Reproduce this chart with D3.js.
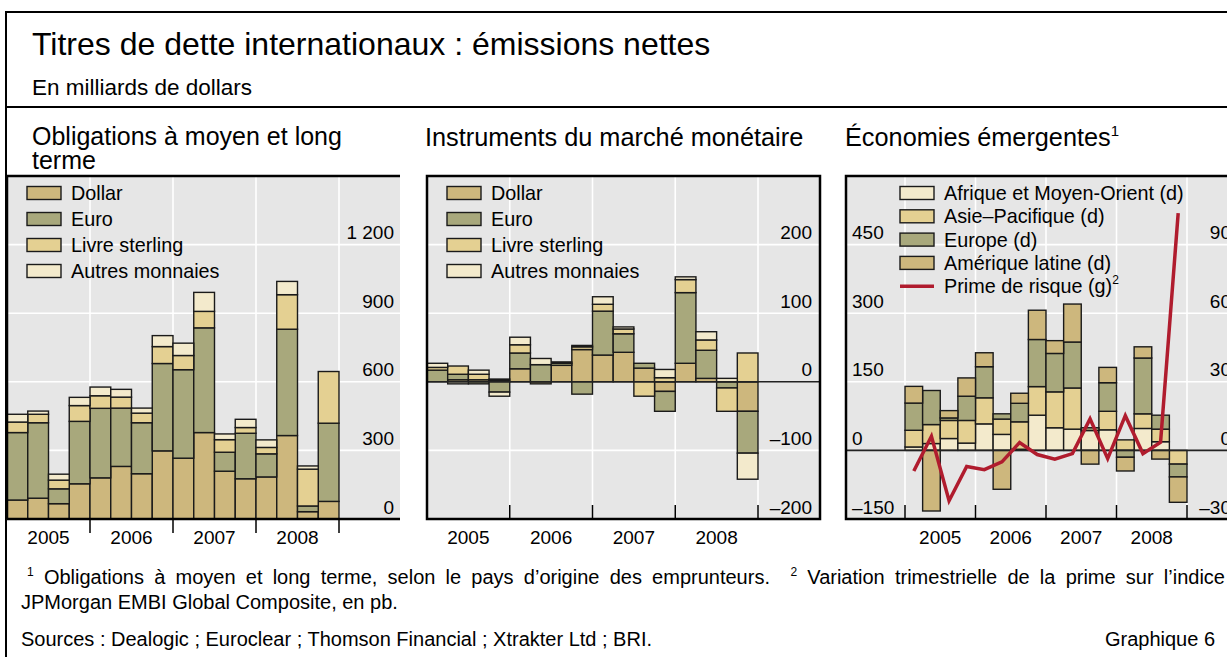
<!DOCTYPE html>
<html lang="fr">
<head>
<meta charset="utf-8">
<title>Titres de dette internationaux : émissions nettes</title>
<script src="https://cdn.jsdelivr.net/npm/d3@7"></script>
<style>
  body { margin: 0; background: #fff; }
  svg { display: block; font-family: Arial, "Liberation Sans", Helvetica, sans-serif; }
  .axis-text { font-size: 19px; fill: #000; }
  .legend-text { font-size: 19.8px; fill: #000; }
</style>
</head>
<body>
<svg id="chart" width="1227" height="657"></svg>
<script>
// trimestres, 2005 T1 - 2008 T4
const quarters = ["2005T1", "2005T2", "2005T3", "2005T4",
                  "2006T1", "2006T2", "2006T3", "2006T4",
                  "2007T1", "2007T2", "2007T3", "2007T4",
                  "2008T1", "2008T2", "2008T3", "2008T4"];
const years = ["2005", "2006", "2007", "2008"];

// Obligations à moyen et long terme (mrd USD)
const oblDollar   = [83, 91, 67, 154, 180, 230, 198, 298, 266, 378, 209, 176, 184, 365, 32, 77];
const oblEuro     = [295, 330, 65, 273, 304, 255, 223, 382, 387, 458, 83, 199, 101, 465, 25, 342];
const oblSterling = [46, 37, 38, 69, 55, 48, 42, 74, 62, 72, 55, 25, 28, 151, 161, 226];
const oblAutres   = [34, 14, 26, 36, 38, 34, 22, 48, 54, 83, 25, 36, 33, 58, 14, 0];

// Instruments du marché monétaire (mrd USD)
const mmDollar   = [0, 3, 3, 2, 19, -3, 24, 47, 39, 43, 20, -14, 27, 5, 0, -43];
const mmEuro     = [17, 8, -3, -15, 23, 25, 3, -18, 64, 27, 7, -29, 103, 41, -9, -61];
const mmSterling = [4, 12, 8, 2, 12, 0, 2, 4, 10, 7, -21, 6, 19, 15, -34, 42];
const mmAutres   = [6, -3, 6, -6, 11, 9, 0, 2, 11, 3, 0, 12, 4, 12, 5, -38];

// Économies émergentes (mrd USD, échelle de droite)
const emAfrique = [1.5, 3, 5.2, 3.2, 11.6, 7, 0.5, 15.4, 9.9, 9.3, 8.7, 9, 0, 9.6, 3.8, 0];
const emAsie    = [7.3, 8.3, 7.9, 9.9, 11.4, 6.7, 12, 12.5, 15.7, 18, 0, 8.1, 4.6, 6.4, 5.5, -6];
const emEurope  = [11.9, 14.9, 1.1, 10.6, 13.6, 2.3, 8.1, 20.6, 16.8, 20.1, 1.2, 12.5, -3, 24.4, 6.1, -5.6];
const emAmLat   = [7.3, -26.5, 3.2, 8, 6.1, -17, 4.4, 12.8, 5.6, 16.6, -6, 6.7, -6, 4.9, -3.8, -11.1];
// Prime de risque, variation trimestrielle en pb (échelle de gauche)
const emPrime   = [-45, 31, -110, -35, -42, -25, 17, -9, -19, -7, 69, -18, 76, -7, 18, 519];

// graduations
const oblTicks = [0, 300, 600, 900, 1200];
const mmTicks = [-200, -100, 0, 100, 200];
const emLeftTicks = [-150, 0, 150, 300, 450];
const emRightTicks = [-30, 0, 30, 60, 90];

const currencyNames = ["Dollar", "Euro", "Livre sterling", "Autres monnaies"];
const regionNames = ["Afrique et Moyen-Orient (d)", "Asie–Pacifique (d)", "Europe (d)", "Amérique latine (d)"];

const cDollar = "#cdb77d", cEuro = "#a8a87c", cSterling = "#e4d092", cAutres = "#f3eacc";
const bg = "#e6e6e6";
const red = "#b01c2e";

const svg = d3.select("#chart");
const loc = d3.formatLocale({ decimal: ",", thousands: " ", grouping: [3], currency: ["", ""], minus: "\u2013" });
const fmt = loc.format(",d");

const plotTop = 176, plotBottom = 519;

// --- en-tête
svg.append("path").attr("d", "M6,657V12H1227").attr("fill", "none").attr("stroke", "#000").attr("stroke-width", 2);
svg.append("line").attr("x1", 6).attr("x2", 1227).attr("y1", 107).attr("y2", 107).attr("stroke", "#000").attr("stroke-width", 2);
svg.append("text").attr("x", 32).attr("y", 55).style("font-size", "32px")
   .text("Titres de dette internationaux : émissions nettes");
svg.append("text").attr("x", 32).attr("y", 95).style("font-size", "22.5px")
   .text("En milliards de dollars");

svg.append("text").attr("x", 32).attr("y", 145).style("font-size", "25px").text("Obligations à moyen et long");
svg.append("text").attr("x", 32).attr("y", 169).style("font-size", "25px").text("terme");
svg.append("text").attr("x", 425).attr("y", 146).style("font-size", "25.3px").text("Instruments du marché monétaire");
const t3 = svg.append("text").attr("x", 845).attr("y", 146).style("font-size", "25.3px");
t3.append("tspan").text("Économies émergentes");
t3.append("tspan").attr("dy", -10).style("font-size", "15px").text("1");

function drawPanel(cfg) {
    const g = svg.append("g");
    const x = d3.scaleBand().domain(quarters).range(cfg.xRange).padding(0);
    const xYear = d3.scaleBand().domain(years).range(cfg.xRange).padding(0);
    const y = d3.scaleLinear().domain(cfg.yDomain).range([plotBottom, plotTop]);

    g.append("rect")
     .attr("x", cfg.left).attr("y", plotTop)
     .attr("width", cfg.right - cfg.left).attr("height", plotBottom - plotTop)
     .attr("fill", bg);

    // grille blanche
    g.selectAll(".hgrid")
     .data(cfg.yTicks.filter(t => t > cfg.yDomain[0] && t !== 0))
     .join("line")
     .attr("x1", cfg.left).attr("x2", cfg.right)
     .attr("y1", d => y(d)).attr("y2", d => y(d))
     .attr("stroke", "#fff").attr("stroke-width", 1.6);

    const bounds = [xYear(years[0])].concat(years.map(yr => xYear(yr) + xYear.bandwidth()))
                    .filter(v => v > cfg.left + 3);
    g.selectAll(".vgrid").data(bounds).join("line")
     .attr("x1", d => d).attr("x2", d => d)
     .attr("y1", plotTop).attr("y2", plotBottom)
     .attr("stroke", "#fff").attr("stroke-width", 1.6);

    // barres empilées
    const rows = quarters.map((q, i) => {
        const r = { q: q };
        cfg.keys.forEach((k, j) => r[k] = cfg.series[j][i]);
        return r;
    });
    const layers = d3.stack().keys(cfg.keys).offset(d3.stackOffsetDiverging)(rows);

    g.selectAll(".layer").data(layers).join("g")
     .attr("fill", (d, i) => cfg.colors[i])
     .selectAll("rect")
     .data(d => d.filter(s => s[0] !== s[1]))
     .join("rect")
     .attr("x", d => x(d.data.q))
     .attr("width", x.bandwidth())
     .attr("y", d => y(Math.max(d[0], d[1])))
     .attr("height", d => Math.abs(y(d[0]) - y(d[1])))
     .attr("stroke", "#1a1a1a").attr("stroke-width", 1.4);

    if (cfg.yDomain[0] < 0) {
        g.append("line")
         .attr("x1", cfg.left).attr("x2", cfg.right)
         .attr("y1", y(0)).attr("y2", y(0))
         .attr("stroke", "#222").attr("stroke-width", 1.6);
    }

    // graduations verticales
    const axisY = g.append("g")
        .attr("transform", `translate(${cfg.labelX},0)`)
        .call(d3.axisRight(y).tickValues(cfg.yTicks).tickSize(0).tickFormat(fmt));
    axisY.select(".domain").remove();
    axisY.selectAll("text")
         .attr("class", "axis-text")
         .attr("x", 0).attr("dy", -6)
         .attr("text-anchor", "end");

    // années
    const axisX = g.append("g")
        .attr("transform", `translate(0,${plotBottom})`)
        .call(d3.axisBottom(xYear).tickSize(0));
    axisX.select(".domain").remove();
    axisX.selectAll("text").attr("class", "axis-text").attr("y", 25).attr("dy", 0);

    const tickLen = cfg.tickDown ? 14 : -14;
    g.selectAll(".ytick").data(bounds).join("line")
     .attr("x1", d => d).attr("x2", d => d)
     .attr("y1", plotBottom).attr("y2", plotBottom + tickLen)
     .attr("stroke", "#000").attr("stroke-width", 1.5);

    // cadre
    g.append("path")
     .attr("d", cfg.frame)
     .attr("fill", "none").attr("stroke", "#000").attr("stroke-width", 2.5);

    return { g: g, x: x, y: y };
}

function drawLegend(x0, y0, step, names, colors) {
    const lg = svg.append("g").attr("transform", `translate(${x0},${y0})`);
    const it = lg.selectAll("g").data(names).join("g")
        .attr("transform", (d, i) => `translate(0,${i * step})`);
    it.append("rect").attr("x", 0).attr("y", -6.5).attr("width", 34).attr("height", 13)
      .attr("fill", (d, i) => colors[i]).attr("stroke", "#1a1a1a").attr("stroke-width", 1.4);
    it.append("text").attr("x", 44).attr("y", 7).attr("class", "legend-text").text(d => d);
    return lg;
}

// Panneau 1
drawPanel({
    left: 7, right: 400, xRange: [7, 339], yDomain: [0, 1500], yTicks: oblTicks,
    keys: currencyNames, series: [oblDollar, oblEuro, oblSterling, oblAutres],
    colors: [cDollar, cEuro, cSterling, cAutres],
    labelX: 394, tickDown: true,
    frame: `M7,${plotBottom}V${plotTop}H400M7,${plotBottom}H400`
});
drawLegend(27, 193, 26, currencyNames, [cDollar, cEuro, cSterling, cAutres]);

// Panneau 2
drawPanel({
    left: 427, right: 820, xRange: [427, 758], yDomain: [-200, 300], yTicks: mmTicks,
    keys: currencyNames, series: [mmDollar, mmEuro, mmSterling, mmAutres],
    colors: [cDollar, cEuro, cSterling, cAutres],
    labelX: 812, tickDown: false,
    frame: `M427,${plotTop}H820V${plotBottom}H427Z`
});
drawLegend(447, 193, 26, currencyNames, [cDollar, cEuro, cSterling, cAutres]);

// Panneau 3
const p3 = drawPanel({
    left: 846, right: 1240, xRange: [905, 1187], yDomain: [-30, 120], yTicks: emRightTicks,
    keys: regionNames, series: [emAfrique, emAsie, emEurope, emAmLat],
    colors: [cAutres, cSterling, cEuro, cDollar],
    labelX: 1231, tickDown: false,
    frame: `M1240,${plotTop}H846V${plotBottom}H1240`
});
const yLeft = d3.scaleLinear().domain([-150, 600]).range([plotBottom, plotTop]);
const axL = p3.g.append("g")
    .attr("transform", "translate(852,0)")
    .call(d3.axisLeft(yLeft).tickValues(emLeftTicks).tickSize(0).tickFormat(fmt));
axL.select(".domain").remove();
axL.selectAll("text").attr("class", "axis-text").attr("x", 0).attr("dy", -6).attr("text-anchor", "start");

const lg3 = drawLegend(900, 193, 23.3, regionNames, [cAutres, cSterling, cEuro, cDollar]);
const lastRow = lg3.append("g").attr("transform", `translate(0,${4 * 23.3})`);
lastRow.append("line").attr("x1", 0).attr("x2", 34).attr("y1", 0).attr("y2", 0)
       .attr("stroke", red).attr("stroke-width", 3.5);
const lt = lastRow.append("text").attr("x", 44).attr("y", 7).attr("class", "legend-text");
lt.append("tspan").text("Prime de risque (g)");
lt.append("tspan").attr("dy", -9).style("font-size", "12px").text("2");

p3.g.append("path")
    .datum(emPrime)
    .attr("fill", "none")
    .attr("stroke", red).attr("stroke-width", 3.5)
    .attr("stroke-linejoin", "miter")
    .attr("d", d3.line()
        .x((d, i) => p3.x(quarters[i]) + p3.x.bandwidth() / 2)
        .y(d => yLeft(d)));

// --- notes
const foot = svg.append("g").style("font-size", "20px");
const n1 = foot.append("text").attr("x", 27).attr("y", 584).style("white-space", "pre");
n1.append("tspan").attr("dy", -8).style("font-size", "12px").text("1");
n1.append("tspan").attr("dy", 8).text(" Obligations à moyen et long terme, selon le pays d’origine des emprunteurs.  ");
n1.append("tspan").attr("dy", -8).style("font-size", "12px").text("2");
n1.append("tspan").attr("dy", 8).text(" Variation trimestrielle de la prime sur l’indice");
// justification de la première ligne jusqu'au bord droit
const natural = n1.node().getComputedTextLength();
const nSpaces = n1.text().split(" ").length - 1;
n1.style("word-spacing", Math.max(0, (1225 - 27 - natural) / nSpaces) + "px");

foot.append("text").attr("x", 21).attr("y", 609).text("JPMorgan EMBI Global Composite, en pb.");
foot.append("text").attr("x", 21).attr("y", 646)
    .text("Sources : Dealogic ; Euroclear ; Thomson Financial ; Xtrakter Ltd ; BRI.");
foot.append("text").attr("x", 1215).attr("y", 646).attr("text-anchor", "end").text("Graphique 6");
</script>
</body>
</html>
